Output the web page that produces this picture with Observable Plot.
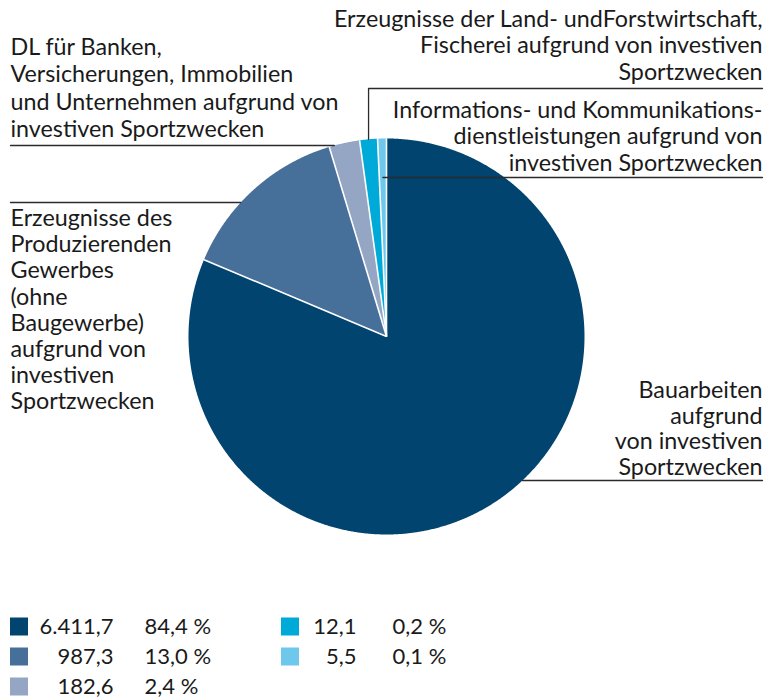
<!DOCTYPE html>
<html>
<head>
<meta charset="utf-8">
<script src="https://cdn.jsdelivr.net/npm/d3@7"></script>
<script src="https://cdn.jsdelivr.net/npm/@observablehq/plot@0.6"></script>
<style>
  html, body { margin: 0; padding: 0; background: #fff; }
  #chart svg { display: block; }
</style>
</head>
<body>
<div id="chart"></div>
<script>
// ---------------- DATA ----------------
const categories = [
  "Bauarbeiten\naufgrund\nvon investiven\nSportzwecken",
  "Erzeugnisse des\nProduzierenden\nGewerbes\n(ohne\nBaugewerbe)\naufgrund von\ninvestiven\nSportzwecken",
  "DL für Banken,\nVersicherungen, Immobilien\nund Unternehmen aufgrund von\ninvestiven Sportzwecken",
  "Erzeugnisse der Land- undForstwirtschaft,\nFischerei aufgrund von investiven\nSportzwecken",
  "Informations- und Kommunikations-\ndienstleistungen aufgrund von\ninvestiven Sportzwecken"
];
const amounts = [6411.7, 987.3, 182.6, 12.1, 5.5];
const amountLabels = ["6.411,7", "987,3", "182,6", "12,1", "5,5"];
const percentLabels = ["84,4 %", "13,0 %", "2,4 %", "0,2 %", "0,1 %"];
// angular share of each slice as drawn in the reference (small slices are shown enlarged)
const drawnShares = [81.4, 14.0, 2.5, 1.45, 0.72];
const colors = ["#00446f", "#466f99", "#94a6c4", "#00aad8", "#6ec8eb"];

// ---------------- LAYOUT ----------------
const W = 769, H = 699;
const cx = 386, cy = 336, R = 198;
const font = "Lato, 'Noto Sans', sans-serif";
const textColor = "#1a1a1a";
const fsLabel = 23.3;
const fsLegend = 22;
// label blocks: x, anchor, first-line centre, line step, leader kind
const labelLayout = [
  {x: 762, anchor: "end",   y0: 390, step: 25.7, leader: {type: "hline", y: 480, to: 762}},
  {x: 10,  anchor: "start", y0: 218, step: 26.2, leader: {type: "hline", y: 202, to: 10}},
  {x: 10,  anchor: "start", y0: 47,  step: 27.3, leader: {type: "hline", y: 145, to: 10}},
  {x: 762, anchor: "end",   y0: 19,  step: 26.5, leader: {type: "elbow", y: 88, to: 762}},
  {x: 762, anchor: "end",   y0: 110, step: 26.5, leader: {type: "inside", y: 177, to: 762}}
];
const legendCols = [10, 281];     // square left edges
const legendValueRight = [113, 356];
const legendPctLeft = [144, 392];
const legendRows = [626.5, 656.5, 686.5];
const legendSq = 18;

// ---------------- GEOMETRY ----------------
const arcs = d3.pie().sort(null).value(d => d)(drawnShares);
const slicePts = arcs.map((a, i) => {
  const pts = [{x: cx, y: cy, i}];
  const n = Math.max(8, Math.ceil((a.endAngle - a.startAngle) / 0.005));
  for (let k = 0; k <= n; k++) {
    const t = a.startAngle + (a.endAngle - a.startAngle) * k / n;
    pts.push({x: cx + R * Math.sin(t), y: cy - R * Math.cos(t), i});
  }
  pts.push({x: cx, y: cy, i});
  return pts;
});
const separators = arcs.map(a => ({
  x1: cx, y1: cy,
  x2: cx + R * Math.sin(a.startAngle), y2: cy - R * Math.cos(a.startAngle)
}));

// label lines
const labelLines = [];
categories.forEach((c, i) => {
  const L = labelLayout[i];
  c.split("\n").forEach((t, j) => labelLines.push({text: t, x: L.x, y: L.y0 + j * L.step, anchor: L.anchor}));
});

// leader lines
const leaders = arcs.map((a, i) => {
  const L = labelLayout[i].leader;
  const mid = (a.startAngle + a.endAngle) / 2;
  if (L.type === "hline") {
    const dx = Math.sqrt(R * R - (L.y - cy) ** 2);
    const xe = L.to > cx ? cx + dx : cx - dx;
    return [{x: L.to, y: L.y}, {x: xe, y: L.y}];
  } else if (L.type === "elbow") {
    const xm = cx + R * Math.sin(mid);
    const ye = cy - Math.sqrt(R * R - (xm - cx) ** 2);
    return [{x: L.to, y: L.y}, {x: xm, y: L.y}, {x: xm, y: ye}];
  } else {
    const xm = cx + (cy - L.y) * Math.tan(mid);
    return [{x: L.to, y: L.y}, {x: xm, y: L.y}];
  }
});

// legend rows
const legendData = amounts.map((v, i) => {
  const col = i < 3 ? 0 : 1;
  const row = i < 3 ? i : i - 3;
  return {i, col, y: legendRows[row], amount: amountLabels[i], pct: percentLabels[i], color: colors[i]};
});

// ---------------- PLOT ----------------
const marks = [];
slicePts.forEach((pts, i) => marks.push(Plot.line(pts, {x: "x", y: "y", fill: colors[i], stroke: "none"})));
marks.push(Plot.link(separators, {x1: "x1", y1: "y1", x2: "x2", y2: "y2", stroke: "#fff", strokeWidth: 1.6}));
leaders.forEach(pts => marks.push(Plot.line(pts, {x: "x", y: "y", stroke: "#2b2b2b", strokeWidth: 1.3})));
["start", "end"].forEach(anchor => {
  marks.push(Plot.text(labelLines.filter(d => d.anchor === anchor), {
    x: "x", y: "y", text: "text", textAnchor: anchor, fontSize: fsLabel, fill: textColor, fontFamily: font
  }));
});
marks.push(Plot.rect(legendData, {
  x1: d => legendCols[d.col], x2: d => legendCols[d.col] + legendSq,
  y1: d => d.y - legendSq / 2, y2: d => d.y + legendSq / 2,
  fill: d => d.color
}));
marks.push(Plot.text(legendData, {
  x: d => legendValueRight[d.col], y: "y", text: "amount", textAnchor: "end",
  fontSize: fsLegend, fill: textColor, fontFamily: font
}));
marks.push(Plot.text(legendData, {
  x: d => legendPctLeft[d.col], y: "y", text: "pct", textAnchor: "start",
  fontSize: fsLegend, fill: textColor, fontFamily: font
}));

const chart = Plot.plot({
  width: W, height: H,
  margin: 0,
  x: {type: "linear", domain: [0, W], range: [0, W], axis: null},
  y: {type: "linear", domain: [0, H], range: [0, H], axis: null},
  color: {type: "identity"},
  style: {fontFamily: font, background: "#fff", color: textColor},
  marks
});
document.getElementById("chart").appendChild(chart);
</script>
</body>
</html>
